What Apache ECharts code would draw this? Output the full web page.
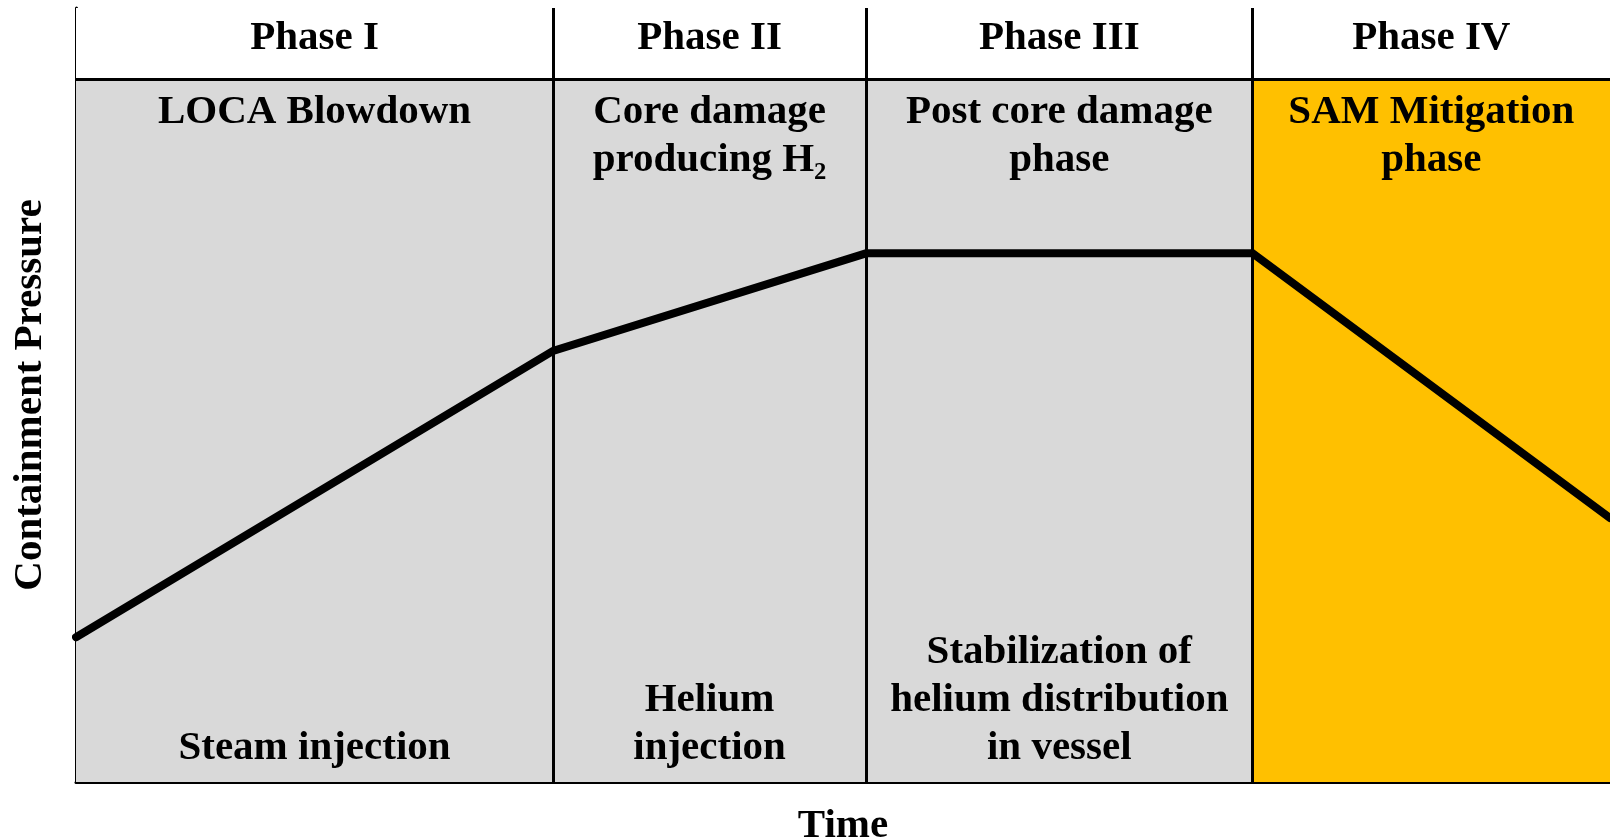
<!DOCTYPE html>
<html>
<head>
<meta charset="utf-8">
<title>Containment Pressure phases</title>
<script src="https://cdn.jsdelivr.net/npm/echarts@6/dist/echarts.min.js"></script>
<style>
  html, body { margin: 0; padding: 0; background: #fff; }
  #main { width: 1610px; height: 840px; }
</style>
</head>
<body>
<div id="main"></div>
<script>
// phases along the time axis
var phaseNames = ['Phase I', 'Phase II', 'Phase III', 'Phase IV'];
var phaseBounds = [0, 31.1, 51.5, 76.7, 100];
var phaseTopText = ['LOCA Blowdown', 'Core damage\nproducing H\u2082', 'Post core damage\nphase', 'SAM Mitigation\nphase'];
var phaseBottomText = ['Steam injection', 'Helium\ninjection', 'Stabilization of\nhelium distribution\nin vessel', ''];
var headerLevel = 90.8; // pressure level where the header row starts

// pressure curve
var pressureTime = [0, 31.1, 51.5, 76.7, 100];
var pressureValue = [18.7, 55.7, 68.3, 68.3, 34.1];

var cellColors = ['#d9d9d9', '#d9d9d9', '#d9d9d9', '#ffc000'];
var font = 'Liberation Serif';

var chart = echarts.init(document.getElementById('main'));

var headerAreas = [], bodyAreas = [], bottomAreas = [];
for (var i = 0; i < phaseNames.length; i++) {
	headerAreas.push([
		{ name: phaseNames[i], xAxis: phaseBounds[i], yAxis: headerLevel },
		{ xAxis: phaseBounds[i + 1], yAxis: 100 }
	]);
	bodyAreas.push([
		{ name: phaseTopText[i], xAxis: phaseBounds[i], yAxis: 0, itemStyle: { color: cellColors[i] } },
		{ xAxis: phaseBounds[i + 1], yAxis: headerLevel }
	]);
	bottomAreas.push([
		{ name: phaseBottomText[i], xAxis: phaseBounds[i], yAxis: 0 },
		{ xAxis: phaseBounds[i + 1], yAxis: headerLevel }
	]);
}

var labelBase = {
	show: true,
	color: '#000',
	fontFamily: font,
	fontWeight: 'bold',
	fontSize: 41,
	lineHeight: 48,
	align: 'center'
};

var option = {
	animation: false,
	backgroundColor: '#fff',
	grid: { left: 76, right: 0, top: 8, bottom: 58, containLabel: false, outerBoundsMode: 'none' },
	xAxis: {
		type: 'value', min: 0, max: 100,
		name: 'Time', nameLocation: 'middle', nameGap: 24,
		nameTextStyle: { fontFamily: font, fontWeight: 'bold', fontSize: 41, color: '#000' },
		axisLine: { show: true, onZero: false, lineStyle: { color: '#000', width: 3 } },
		axisTick: { show: false }, axisLabel: { show: false }, splitLine: { show: false }
	},
	yAxis: {
		type: 'value', min: 0, max: 100,
		name: 'Containment Pressure', nameLocation: 'middle', nameGap: 25,
		nameTextStyle: { fontFamily: font, fontWeight: 'bold', fontSize: 41, color: '#000' },
		axisLine: { show: true, onZero: false, lineStyle: { color: '#000', width: 3 } },
		axisTick: { show: false }, axisLabel: { show: false }, splitLine: { show: false }
	},
	series: [{
		name: 'header', type: 'line', data: [], silent: true,
		markArea: {
			silent: true,
			itemStyle: { color: '#fff' },
			label: Object.assign({}, labelBase, { position: 'insideTop', distance: 6 }),
			data: headerAreas
		}
	}, {
		name: 'body', type: 'line', data: [], silent: true,
		markArea: {
			silent: true,
			label: Object.assign({}, labelBase, { position: 'insideTop', distance: 9 }),
			data: bodyAreas
		}
	}, {
		name: 'bottom', type: 'line', data: [], silent: true,
		markArea: {
			silent: true,
			itemStyle: { color: 'rgba(0,0,0,0)' },
			label: Object.assign({}, labelBase, { position: 'insideBottom', distance: 10 }),
			data: bottomAreas
		}
	}, {
		name: 'Containment Pressure', type: 'line', silent: true,
		symbol: 'none', z: 5,
		lineStyle: { color: '#000', width: 8, cap: 'round', join: 'miter' },
		data: pressureTime.map(function (t, k) { return [t, pressureValue[k]]; }),
		markLine: {
			silent: true, symbol: 'none', z: 4,
			label: { show: false },
			lineStyle: { color: '#000', width: 3, type: 'solid' },
			data: phaseBounds.slice(1, -1).map(function (b) { return { xAxis: b }; })
				.concat([{ yAxis: headerLevel }])
		}
	}]
};

chart.setOption(option);
</script>
</body>
</html>
